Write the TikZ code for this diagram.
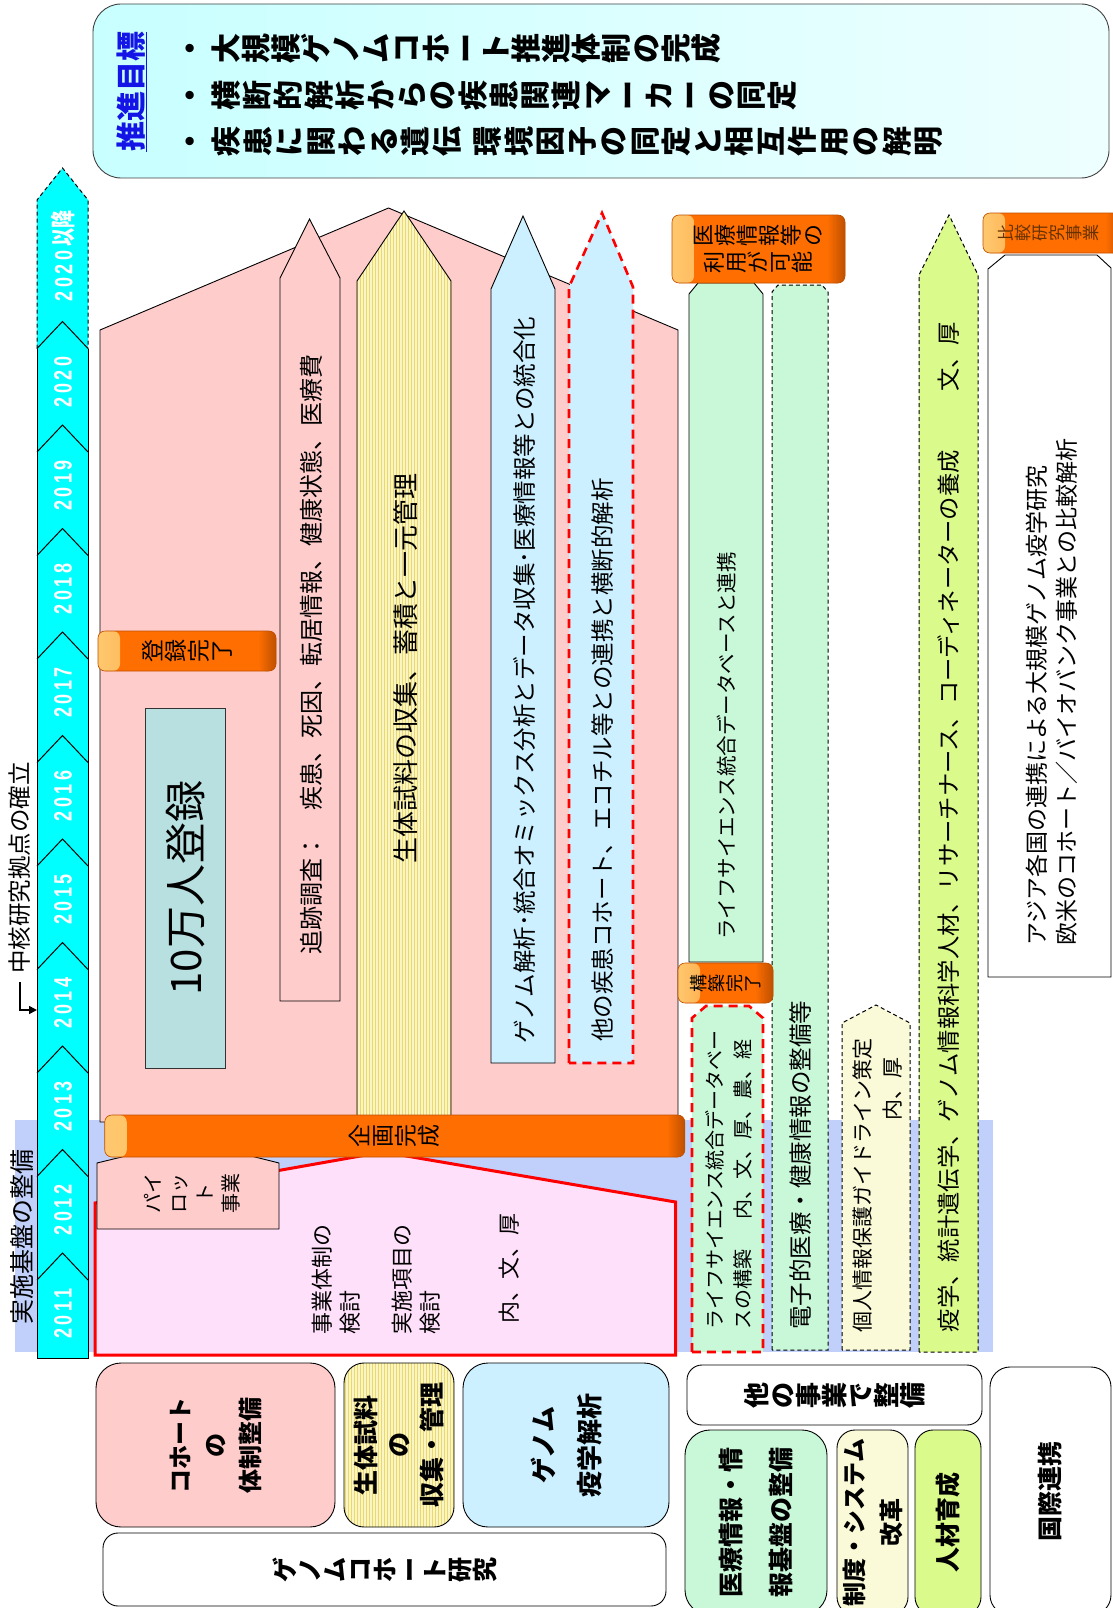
\documentclass[tikz,border=0pt]{standalone}
\usepackage{fontspec}
\usepackage{graphicx}
\setmainfont{Noto Sans CJK JP}
\newfontfamily\jpf{Noto Sans CJK JP}
\newfontfamily\yrfont{Liberation Sans}
\usetikzlibrary{patterns,arrows.meta}
\definecolor{pinkc}{RGB}{255,204,204}
\definecolor{lbluec}{RGB}{204,240,255}
\definecolor{tealc}{RGB}{185,224,224}
\definecolor{lgreenc}{RGB}{200,248,216}
\definecolor{lyelc}{RGB}{250,250,216}
\definecolor{ygreenc}{RGB}{218,250,140}
\definecolor{lpinkc}{RGB}{255,224,250}
\definecolor{bandc}{RGB}{192,208,250}
\definecolor{stripeY}{RGB}{250,246,196}
\definecolor{stripeL}{RGB}{236,214,110}
\definecolor{orangec}{RGB}{255,110,0}
\definecolor{orangeD}{RGB}{190,80,0}
\definecolor{orangeL}{RGB}{255,200,110}
\definecolor{topL}{RGB}{200,255,255}
\definecolor{topR}{RGB}{238,255,255}
\definecolor{goalblue}{RGB}{20,20,230}
\definecolor{tlcyan}{RGB}{0,255,255}
\newcommand\fsz[2]{\fontsize{#1}{#2}\selectfont}
\newdimen\rgk \rgk=0pt
\def\rgl#1{\rglA#1\relax}
\def\rglB#1{\rotatebox{90}{\rule[-0.12em]{0pt}{1em}#1}\kern\rgk}
\def\rglA#1{\ifx\relax#1\else\rglB{#1}\expandafter\rglA\fi}
\def\spd#1{\ifx\relax#1\else#1\kern5pt\expandafter\spd\fi}
\def\yrtxt#1{\scalebox{0.72}[1]{\expandafter\spd#1\relax\kern-5pt}}
\tikzset{
 rt/.style={rotate=90, align=center, inner sep=0pt},
 bx/.style={draw=black, line width=0.9pt},
 rdash/.style={draw=red, line width=2.6pt, dash pattern=on 9pt off 6pt},
 kdash/.style={draw=black, line width=1pt, dash pattern=on 4pt off 3pt},
 olab/.style={draw=orangeD, line width=0.6pt, fill=orangec, rounded corners=7pt, inner sep=0pt, align=center,
   path picture={\shade[left color=orangeL,right color=orangec] (path picture bounding box.north west) rectangle ([xshift=22pt]path picture bounding box.south west);
   \shade[left color=orangec,right color=orangeD] ([xshift=-18pt]path picture bounding box.north east) rectangle (path picture bounding box.south east);}},
 lg/.style={draw=black, line width=0.9pt, inner sep=0pt, align=center},
 yr/.style={rotate=90, inner sep=0pt, text=white, font=\yrfont\bfseries\fsz{25}{27}},
}
\begin{document}
\begin{tikzpicture}[x=1pt,y=-1pt]
\useasboundingbox (0,0) rectangle (1113,1608);
% band
\fill[bandc] (15,1120) rectangle (993,1352);
% top box
\draw[rounded corners=28pt, draw=black!75, line width=0.9pt, left color=topL, right color=topR] (93,4) rectangle (1109,178);
\node[rt, font=\bfseries\fsz{30}{34}, text=goalblue] (goal) at (132,92) {\underline{推進目標}};
\node[anchor=west, inner sep=0pt, font=\bfseries\fsz{30}{34}] (g1) at (175,49) {\rgl{・}\kern6pt\rgl{大規模ゲノムコホート推進体制の完成}};
\node[anchor=west, inner sep=0pt, font=\bfseries\fsz{30}{34}] (g2) at (175,96) {\rgl{・}\kern6pt\rgk=0.9pt\rgl{横断的解析からの疾患関連マーカーの同定}};
\node[anchor=west, inner sep=0pt, font=\bfseries\fsz{30}{34}] (g3) at (175,142) {\rgl{・}\kern6pt\rgk=1.5pt\rgl{疾患に関わる遺伝}\hspace{9pt}\rgl{環境因子の同定と相互作用の解明}};
% red area
\draw[draw=red, line width=3pt, fill=lpinkc] (95,1355) -- (675.5,1355) -- (675.5,1202) -- (383,1152) -- (95,1203) -- cycle;
\draw[bx, fill=pinkc] (97,1229) -- (97,1163) -- (130,1155) -- (247,1155) -- (279,1163) -- (279,1229) -- cycle;
\node[rt, font=\fsz{20}{26}] (pilot) at (192,1193) {パイ\\ロッ\\ト\\事業};
\node[rt, anchor=west, align=left, font=\fsz{22}{28.5}] (rs1) at (336,1335) {事業体制の\\検討};
\node[rt, anchor=west, align=left, font=\fsz{22}{28.5}] (rs2) at (416,1335) {実施項目の\\検討};
\node[rt, font=\fsz{22}{26}] (rs3) at (509,1268) {内、文、厚};
% house
\draw[bx, fill=pinkc] (100,1122) -- (100,330) -- (388.5,208) -- (678,330) -- (678,1122) -- cycle;
\draw[bx, fill=pinkc] (280,1001) -- (280,278) -- (309.5,219) -- (340,278) -- (340,1001) -- cycle;
\draw[bx, preaction={fill=stripeY}, preaction={pattern=vertical lines, pattern color=stripeL}] (357,1122) -- (357,281) -- (404,211) -- (451,281) -- (451,1122) -- cycle;
\draw[bx, fill=lbluec] (491,1063) -- (491,289) -- (523,216) -- (555,289) -- (555,1063) -- cycle;
\draw[rdash, fill=lbluec] (569,1063) -- (569,287) -- (602,213) -- (633,287) -- (633,1063) -- cycle;
\node[rt, draw=black!80, line width=0.9pt, fill=tealc, minimum width=360pt, minimum height=79.5pt, font=\fsz{42}{46}] (n10) at (185.25,888) {10万人登録};
\node[rt, font=\fsz{24}{28}] (tA) at (311,654) {追跡調査：　疾患、死因、転居情報、健康状態、医療費};
\node[rt, font=\fsz{26}{28}] (tB) at (406,668) {生体試料の収集、蓄積と一元管理};
\node[rt, font=\fsz{23.5}{26}] (tC) at (524,680) {ゲノム解析･統合オミックス分析とデータ収集･医療情報等との統合化};
\node[rt, font=\fsz{23.5}{26}] (tD) at (603,760) {他の疾患コホート、エコチル等との連携と横断的解析};
% right columns
\draw[bx, fill=lgreenc] (689,962) -- (689,294) -- (698,283) -- (754,283) -- (763,294) -- (763,962) -- cycle;
\draw[kdash, fill=lgreenc] (772,1350) -- (772,292) -- (778,285) -- (822,285) -- (828,292) -- (828,1350) -- cycle;
\draw[rdash, fill=lgreenc] (692,1352) -- (692,1018) -- (706,1006) -- (749,1006) -- (763,1018) -- (763,1352) -- cycle;
\draw[kdash, fill=lyelc] (842,1350) -- (842,1023) -- (876,1005) -- (910,1023) -- (910,1350) -- cycle;
\draw[kdash, fill=ygreenc] (919,1352) -- (919,275) -- (949,215) -- (978,275) -- (978,1352) -- cycle;
\draw[bx, fill=white] (988,977) -- (988,269) -- (1005,255) -- (1097,255) -- (1111,268) -- (1111,977) -- cycle;
\node[rt, font=\fsz{20.5}{24}] (tL) at (727,746) {ライフサイエンス統合データベースと連携};
\node[rt, anchor=west, align=left, font=\fsz{20}{28}] (tLC) at (729,1330) {ライフサイエンス統合データベー\\スの構築\hspace{1.5em}内、文、厚、農、経};
\node[rt, font=\fsz{23.5}{26}] (tE) at (801,1165) {電子的医療・健康情報の整備等};
\node[rt, font=\fsz{21}{24}] (tP1) at (863,1185) {個人情報保護ガイドライン策定};
\node[rt, font=\fsz{21}{24}] (tP2) at (893,1089) {内、厚};
\node[rt, font=\fsz{23.3}{26}] (tY) at (949,827) {疫学、統計遺伝学、ゲノム情報科学人材、リサーチナース、コーディネーターの養成\hspace{2.5em}文、厚};
\node[rt, anchor=west, align=left, font=\fsz{23}{30}] (tI) at (1052,946) {アジア各国の連携による大規模ゲノム疫学研究\\欧米のコホート／バイオバンク事業との比較解析};
% orange labels
\node[olab, minimum width=178pt, minimum height=40pt, font=\fsz{23}{26}] (l1) at (187,651) {\rgl{登録完了}};
\node[olab, minimum width=580pt, minimum height=42pt, font=\fsz{23}{26}] (l2) at (394.75,1136) {\rgl{企画完成}};
\node[olab, minimum width=95pt, minimum height=40pt, font=\fsz{18}{20}] (l3) at (725.5,983) {\rgl{構築完了}};
\node[olab, minimum width=173pt, minimum height=68pt, font=\fsz{22}{27}] (l4) at (758.5,249) {\rgl{医療情報等の}\\\rgl{利用が可能}};
\node[olab, minimum width=140pt, minimum height=40pt] (l5) at (1053,233) {};
\node[anchor=west, inner sep=0pt, font=\fsz{17}{18}, text=black!60!orange] (l5t) at (997,233) {\rgl{比較研究事業}};
% timeline
\fill[tlcyan] (37,1358) -- (37,200) -- (62.5,168) -- (88,200) -- (88,1358) -- cycle;
\draw[line width=1pt] (37,348.5) -- (37,1358) -- (88,1358) -- (88,348.5);
\draw[line width=1pt, dash pattern=on 4pt off 3pt] (37,348.5) -- (37,200) -- (62.5,168) -- (88,200) -- (88,348.5);
\foreach \k in {0,...,9} {
  \pgfmathsetmacro\a{1253-103.5*\k}
  \draw[line width=1pt] (37,\a+27) -- (62.5,\a) -- (88,\a+27);
  \pgfmathtruncatemacro\yy{2011+\k}
  \pgfmathsetmacro\c{1313.5-103.5*\k}
  \node[yr] (yr\k) at (63,\c) {\yrtxt{\yy}};
}
\node[yr] (yrX) at (63,256) {\scalebox{0.72}[1]{2\kern5pt0\kern5pt2\kern5pt0\kern5pt{\jpf\bfseries 以降}}};
% left texts
\node[rt, anchor=west, font=\fsz{23.5}{26}] (cn) at (20,974) {中核研究拠点の確立};
\coordinate (t14) at (37,1010);
\draw[line width=1.6pt, -{Triangle[length=8pt,width=8pt]}] (cn.west) ++(0,8) |- (t14);
\node[rt, font=\fsz{25}{28}] (jk) at (22,1237) {実施基盤の整備};
% legend
\node[lg, rt, rounded corners=25pt, fill=pinkc, minimum width=164pt, minimum height=239pt, font=\bfseries\fsz{24}{35}] (k1) at (215.5,1445) {コホート\\の\\体制整備};
\node[lg, rt, rounded corners=20pt, preaction={fill=stripeY}, preaction={pattern=vertical lines, pattern color=stripeL}, minimum width=164pt, minimum height=110pt, font=\bfseries\fsz{25}{33}] (k2) at (399,1445) {生体試料\\の\\収集・管理};
\node[lg, rt, rounded corners=25pt, fill=lbluec, minimum width=164pt, minimum height=206pt, font=\bfseries\fsz{26}{46}] (k3) at (566,1445) {ゲノム\\疫学解析};
\node[lg, rounded corners=15pt, fill=white, minimum width=563pt, minimum height=73pt, font=\bfseries\fsz{25}{28}] (k4) at (384.5,1569.5) {\rgl{ゲノムコホート研究}};
\node[lg, rounded corners=15pt, fill=white, minimum width=295pt, minimum height=60pt, font=\bfseries\fsz{26}{28}] (k5) at (834.5,1395) {\rgl{他の事業で整備}};
\node[lg, rt, rounded corners=25pt, fill=lgreenc, minimum width=185pt, minimum height=142pt, font=\bfseries\fsz{25}{50}] (k6) at (756,1522.5) {医療情報・情\\報基盤の整備};
\node[lg, rt, rounded corners=18pt, fill=lyelc, minimum width=185pt, minimum height=71pt, font=\bfseries\fsz{24}{37}] (k7) at (872.5,1522.5) {制度・システム\\改革};
\node[lg, rt, rounded corners=18pt, fill=ygreenc, minimum width=185pt, minimum height=66pt, font=\bfseries\fsz{25}{28}] (k8) at (948,1522.5) {人材育成};
\node[lg, rt, rounded corners=20pt, fill=white, minimum width=248pt, minimum height=121pt, font=\bfseries\fsz{25}{28}] (k9) at (1050.5,1491) {国際連携};
\end{tikzpicture}
\end{document}
